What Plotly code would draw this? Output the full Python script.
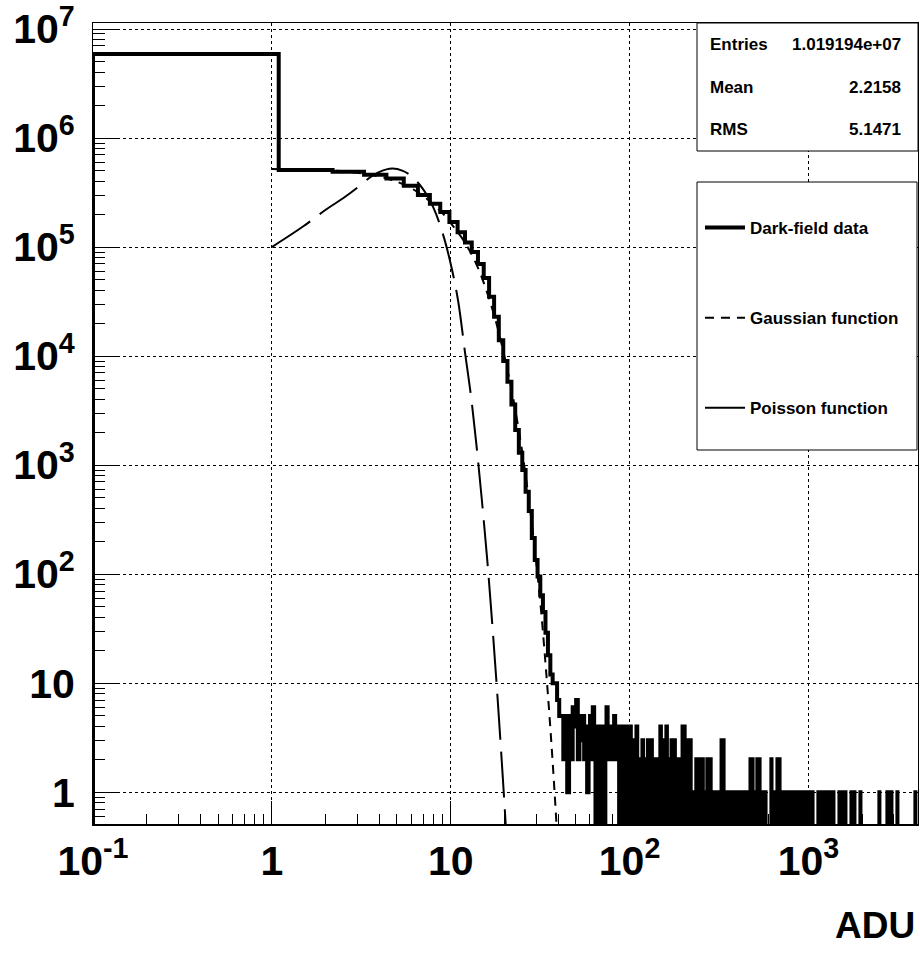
import numpy as np
import plotly.graph_objects as go

# ---------------------------------------------------------------------------
# Dark-field pixel spectrum (ADU), 3750 bins spanning 0 .. 4096 ADU
# ---------------------------------------------------------------------------
N_BINS = 3750
ADU_MAX = 4096.0
BIN_WIDTH = ADU_MAX / N_BINS

# per-bin contents for the first 91 bins (0 .. ~100 ADU)
head_counts = [
    5.9e6, 5.1e5, 4.9e5, 4.6e5, 4.25e5, 3.65e5, 3.0e5, 2.5e5, 2.1e5, 1.7e5,
    1.37e5, 1.1e5, 9.0e4, 7.0e4, 5.2e4, 3.5e4, 2.3e4, 1.4e4, 9.0e3, 5.8e3,
    3.6e3, 2.1e3, 1.3e3, 900, 570, 380, 215, 135, 95, 64,
    45, 29, 18, 12, 10, 10, 7, 5, 5, 2,
    5, 1, 5, 2, 6, 4, 7, 2, 5, 3,
    5, 2, 4, 1, 3, 5, 2, 6, 3, 0,
    4, 0, 4, 3, 0, 4, 0, 3, 6, 2,
    4, 3, 2, 4, 2, 5, 3, 2, 3, 4,
    0, 3, 0, 2, 4, 2, 0, 3, 0, 4,
    3,
]

# sparse high-ADU tail: positions (ADU) of the occupied bins and their counts
tail_adu = [
    101.3, 105.3, 109.4, 113.7, 118.2, 122.8, 127.7, 132.7, 137.9, 143.3,
    149.0, 154.9, 161.0, 165.2, 171.7, 178.4, 185.4, 192.7, 197.8, 202.9,
    210.9, 219.2, 227.8, 236.8, 246.1, 255.8, 265.8, 272.8, 283.5, 294.7,
    306.3, 318.3, 326.6, 335.1, 348.3, 362.0, 376.2, 391.0, 406.4, 422.3,
    438.9, 456.2, 474.1, 486.5, 505.6, 518.8, 532.3, 553.3, 575.0, 621.2,
    645.6, 670.9, 688.7, 715.6, 743.8, 773.0, 803.4, 835.0, 867.8, 901.9,
    937.3, 974.2, 1013, 1053, 1137, 1182, 1228, 1277, 1327, 1379,
    1490, 1549, 1610, 1739, 1807, 1952, 2492, 2763, 2909, 3143,
    3961,
]
tail_counts = [
    4, 3, 4, 2, 3, 2, 3, 3, 2, 2,
    4, 3, 4, 2, 3, 3, 2, 2, 4, 4,
    3, 3, 1, 2, 2, 2, 1, 2, 2, 1,
    1, 1, 3, 3, 1, 1, 1, 1, 1, 1,
    1, 1, 2, 2, 1, 2, 2, 1, 1, 2,
    1, 2, 2, 1, 1, 1, 1, 1, 1, 1,
    1, 1, 1, 1, 1, 1, 1, 1, 1, 1,
    1, 1, 1, 1, 1, 1, 1, 1, 1, 1,
    1,
]

# fitted Gaussian, sampled along the curve
gauss_adu = [1, 2, 3, 4, 5, 6, 7, 8, 9, 10, 12, 14, 16, 18, 20,
             22, 24, 26, 28, 30, 32, 34, 36, 38, 40]
gauss_val = [5.19e5, 5.07e5, 4.79e5, 4.42e5, 3.98e5, 3.47e5, 2.95e5, 2.45e5,
             2.04e5, 1.66e5, 1.10e5, 6.8e4, 3.8e4, 2.0e4, 9.8e3,
             4.7e3, 2.1e3, 890, 355, 132, 46, 14, 4.0, 1.05, 0.25]

# fitted Poisson, sampled along the curve
poisson_adu = [1.0, 1.5, 2.0, 2.5, 3.0, 3.5, 4.0, 4.7, 5.4, 6.0, 7.0, 8.0,
               9.0, 10.0, 11.0, 12.0, 13.0, 14.0, 15.0, 16.0, 17.0, 18.0,
               19.0, 20.0, 21.0]
poisson_val = [1.0e5, 1.55e5, 2.2e5, 2.8e5, 3.5e5, 4.3e5, 4.9e5, 5.25e5,
               5.0e5, 4.5e5, 3.4e5, 2.3e5, 1.35e5, 7.0e4, 3.2e4, 1.1e4,
               4.2e3, 1.4e3, 440, 135, 38, 10.5, 2.8, 0.75, 0.19]

x_tickvals = [0.1, 1, 10, 100, 1000]
x_ticktext = ["10<sup>-1</sup>", "1", "10", "10<sup>2</sup>", "10<sup>3</sup>"]
y_tickvals = [1, 10, 100, 1e3, 1e4, 1e5, 1e6, 1e7]
y_ticktext = ["1", "10", "10<sup>2</sup>", "10<sup>3</sup>", "10<sup>4</sup>",
              "10<sup>5</sup>", "10<sup>6</sup>", "10<sup>7</sup>"]

stats_labels = ["Entries", "Mean", "RMS"]
stats_values = ["1.019194e+07", "2.2158", "5.1471"]
legend_names = ["Dark-field data", "Gaussian function", "Poisson function"]
x_title = "ADU"

# ---------------------------------------------------------------------------
# geometry
# ---------------------------------------------------------------------------
W, H = 920, 969
PL, PR, PT, PB = 93, 918, 23, 825
X_RANGE = [-1.0, np.log10(ADU_MAX)]
Y_RANGE = [np.log10(0.5), np.log10(1.135e7)]
FONT = "Liberation Sans, Arial, Helvetica, sans-serif"


def paper_x(px):
    return (px - PL) / (PR - PL)


def paper_y(py):
    return (PB - py) / (PB - PT)


# ---------------------------------------------------------------------------
# histogram as a step outline
# ---------------------------------------------------------------------------
counts = np.zeros(N_BINS)
counts[:len(head_counts)] = head_counts
for adu, c in zip(tail_adu, tail_counts):
    counts[int(adu // BIN_WIDTH)] += c

edges = np.arange(N_BINS + 1) * BIN_WIDTH
x_lo = 10 ** X_RANGE[0]
floor = 0.2  # empty bins sit below the visible range
edges_disp = np.maximum(edges, x_lo)
c_disp = np.where(counts > 0, counts, floor)

hist_x = np.concatenate([[edges_disp[0]], edges_disp, [edges_disp[-1]]])
hist_y = np.concatenate([[floor], c_disp, [c_disp[-1]], [floor]])

fig = go.Figure()

fig.add_trace(go.Scatter(
    x=hist_x, y=hist_y, mode="lines",
    line=dict(color="black", width=4, shape="hv", simplify=False),
    name=legend_names[0], legendgroup="g0",
))
fig.add_trace(go.Scatter(
    x=gauss_adu, y=gauss_val, mode="lines",
    line=dict(color="black", width=2, dash="9px,7px", shape="spline"),
    name=legend_names[1], legendgroup="g1",
))
fig.add_trace(go.Scatter(
    x=poisson_adu, y=poisson_val, mode="lines",
    line=dict(color="black", width=2, dash="46px,12px", shape="spline"),
    name=legend_names[2], legendgroup="g2",
))

minor_x = [m * 10 ** d for d in range(-1, 4) for m in range(2, 10)]
minor_y = [m * 10 ** d for d in range(-1, 8) for m in range(2, 10)]

axis_common = dict(
    type="log", showline=True, linecolor="black", mirror=True, linewidth=1,
    ticks="inside", tickcolor="black", tickwidth=1,
    showgrid=True, gridcolor="black", gridwidth=1, griddash="dot",
    zeroline=False, automargin=False,
    tickfont=dict(family=FONT, size=41, color="black", weight="bold"),
)

fig.update_xaxes(
    **axis_common, range=X_RANGE,
    tickmode="array", tickvals=x_tickvals, ticktext=x_ticktext, ticklen=24,
    minor=dict(tickmode="array", tickvals=minor_x, ticks="inside",
               ticklen=11, tickcolor="black", showgrid=False),
)
fig.update_yaxes(
    **axis_common, range=Y_RANGE,
    tickmode="array", tickvals=y_tickvals, ticktext=y_ticktext, ticklen=24,
    ticklabelstandoff=9,
    minor=dict(tickmode="array", tickvals=minor_y, ticks="inside",
               ticklen=12, tickcolor="black", showgrid=False),
)

# heavier bottom axis line
fig.add_shape(type="line", xref="paper", yref="paper", x0=0, x1=1, y0=0, y1=0,
              line=dict(color="black", width=2), layer="above")

# statistics box
fig.add_shape(type="rect", xref="paper", yref="paper",
              x0=paper_x(697), x1=paper_x(918), y0=paper_y(151), y1=paper_y(23),
              line=dict(color="black", width=1), fillcolor="white", layer="above")
for i, (lab, val) in enumerate(zip(stats_labels, stats_values)):
    yy = paper_y(45 + 42.5 * i)
    fig.add_annotation(x=paper_x(708), y=yy, xref="paper", yref="paper",
                       text=lab, showarrow=False, xanchor="left", yanchor="middle",
                       font=dict(family=FONT, size=17, color="black", weight="bold"))
    fig.add_annotation(x=paper_x(903), y=yy, xref="paper", yref="paper",
                       text=val, showarrow=False, xanchor="right", yanchor="middle",
                       font=dict(family=FONT, size=17, color="black", weight="bold"))

# legend frame
fig.add_shape(type="rect", xref="paper", yref="paper",
              x0=paper_x(697), x1=paper_x(917), y0=paper_y(450), y1=paper_y(182),
              line=dict(color="black", width=1), fillcolor="white", layer="above")

fig.add_annotation(x=paper_x(917), y=paper_y(925), xref="paper", yref="paper",
                   text=x_title, showarrow=False, xanchor="right", yanchor="middle",
                   font=dict(family=FONT, size=37, color="black", weight="bold"))

fig.update_layout(
    width=W, height=H,
    margin=dict(l=PL, r=W - PR, t=PT, b=H - PB, pad=0),
    paper_bgcolor="white", plot_bgcolor="white",
    showlegend=True,
    legend=dict(
        x=paper_x(700), y=paper_y(210), xanchor="left", yanchor="top",
        bgcolor="rgba(0,0,0,0)", borderwidth=0,
        font=dict(family=FONT, size=17, color="black", weight="bold"),
        tracegroupgap=65, itemwidth=40,
    ),
)

fig.write_html("out.html")
